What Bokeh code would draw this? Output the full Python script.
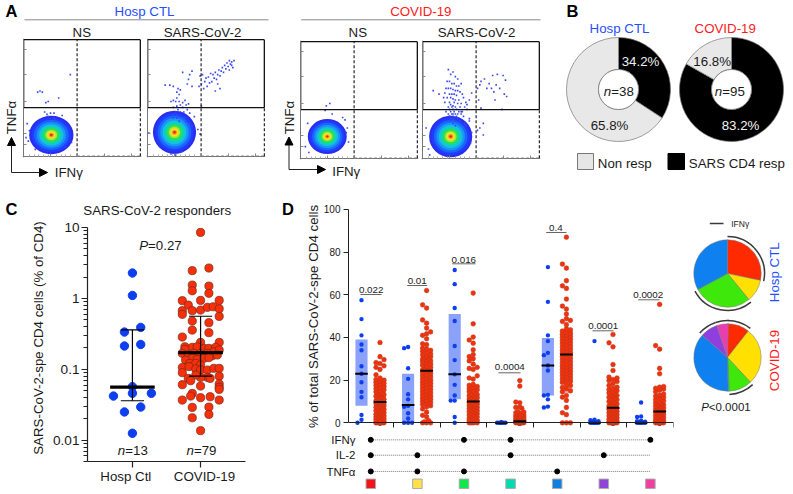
import math
from bokeh.plotting import figure
from bokeh.models import Column, Range1d, FixedTicker, Arrow, NormalHead
from bokeh.core.properties import value
from bokeh.embed import file_html
from bokeh.resources import INLINE

FONT = "Liberation Sans"
BLUE, RED = "#1f4fff", "#ff1a1a"

# ---------- Panel A: flow cytometry ----------
blob_centers = [(23.7, 18.3), (23.0, 20.6), (22.8, 18.7), (24.0, 18.7)]
blob_radii = [(19, 16.5), (18.5, 18.5), (16.7, 15), (18.5, 17.8)]
blob_levels = [1.0, 0.9, 0.78, 0.66, 0.55, 0.45, 0.36, 0.27, 0.19, 0.12, 0.06]
blob_colors = ["#2a2cf0", "#1f3cff", "#1a66ff", "#1a96f5", "#12c4e0", "#10d8a0",
               "#30e050", "#a8e830", "#f2e428", "#f89a20", "#f01c18"]
quad_h, quad_v = 41.7, 45.8
flow_x = [
    [12, 14, 16, 21, 19, 30, 26, 40, 20, 23, 26, 21, 18, 27, 33, 10, 4, 41, 36, 5, 3, 2],
    [74, 72, 70, 71, 68, 72, 69, 66, 64, 67, 70, 73, 63, 65, 61, 58, 60, 62, 56, 54, 57, 59, 52, 50, 47, 45, 49, 53, 55, 46,
     44, 48, 51, 60, 62, 58, 35, 38, 36, 34, 30, 26, 22, 25, 27, 28, 25, 22, 20, 24, 27, 30, 32, 28, 25, 22, 30, 33, 35, 26,
     24, 28, 31, 34, 22, 25, 36, 38, 15, 19, 22, 25, 28, 31, 27, 33, 36, 38, 46, 45, 43, 1, 40, 20, 24, 29],
    [22, 25, 21, 27, 36, 38, 6, 4, 40, 41, 7, 39],
    [50, 53, 57, 60, 64, 69, 71, 63, 59, 66, 61, 70, 72, 47, 49, 55, 48, 50, 62, 68, 49, 52, 47, 52,
     22, 24, 26, 28, 30, 21, 23, 25, 27, 29, 31, 33, 20, 22, 24, 26, 28, 30, 32, 19, 23, 25, 27, 29, 34, 18, 21, 24, 26, 28, 31,
     35, 9, 14, 19, 23, 27, 30, 33, 37, 24, 26, 22, 25, 28, 32, 36, 23, 26, 29, 20, 24, 27, 31, 34, 22, 25, 28, 30, 33, 23, 26,
     29, 25, 27, 24, 28, 26, 24, 30, 32, 28, 26, 23, 42, 40, 38, 40, 36, 35, 33, 38, 40, 37, 5, 42, 41, 6, 3],
]
flow_y = [
    [55, 56, 55, 47, 46, 50, 37, 70, 36, 37, 33, 34, 38, 31, 35, 6, 13, 12, 8, 22, 28, 16],
    [82, 81, 82, 79, 80, 78, 77, 78, 76, 75, 74, 76, 73, 72, 74, 72, 70, 69, 70, 71, 67, 66, 68, 67, 70, 69, 64, 63, 64, 62,
     60, 58, 60, 62, 58, 56, 66, 73, 70, 62, 72, 58, 60, 55, 53, 57, 50, 48, 47, 47, 47, 46, 48, 44, 43, 42, 42, 44, 45, 40,
     38, 38, 38, 40, 36, 36, 37, 60, 61, 61, 33, 33, 34, 33, 30, 30, 28, 26, 43, 19, 23, 20, 34, 2, 1, 4],
    [45, 47, 41, 38, 35, 33, 30, 10, 26, 14, 5, 22],
    [66, 68, 64, 71, 72, 71, 67, 63, 60, 60, 57, 55, 53, 60, 63, 60, 50, 43, 50, 42, 26, 30, 24, 20,
     76, 72, 74, 70, 68, 66, 66, 64, 64, 62, 62, 64, 60, 60, 60, 59, 58, 58, 57, 56, 55, 55, 55, 54, 55, 52, 52, 52, 51, 50, 50,
     52, 58, 55, 48, 48, 48, 47, 47, 48, 46, 45, 44, 44, 44, 44, 44, 42, 42, 42, 40, 40, 40, 40, 40, 38, 38, 38, 38, 38, 36, 36,
     36, 34, 34, 32, 32, 30, 34, 34, 32, 28, 38, 36, 56, 50, 42, 34, 30, 36, 40, 46, 32, 28, 8, 22, 13, 3, 26],
]

# ---------- Panel B: donuts ----------
donut_names = ["Hosp CTL", "COVID-19"]
resp_pct = [34.2, 83.2]
nonresp_pct = [65.8, 16.8]
donut_n = [38, 95]

# ---------- Panel C ----------
c_categories = ["Hosp Ctl", "COVID-19"]
c_blue_vals = [2.28, 1.10, .39, .335, .213, .224, .0568, .0458, .0419, .0458, .0293, .025, .0125]
c_blue_off = [0, 0, .122, -.117, -.117, .122, 0, 0, -.278, .278, .122, -.117, 0]
c_blue_stats = (.036, .056, .36)
c_red_vals = [8.53, 2.46, 2.68, 1.54, 1.28, 1.49, 1.18, .927, .937, .937, .805, .67, .595, .67, .684, .747, .762, .715, .557,
              .479, .454, .357, .328, .285, .239, .239, .208, .204, .208, .197, .197, .204, .191, .177, .187, .168, .159, .168,
              .168, .168, .155, .159, .143, .138, .143, .146, .135, .121, .121, .115, .106, .109, .101, .0975, .0975, .103, .103,
              .0895, .0744, .08, .0769, .0769, .083, .0744, .069, .0619, .0606, .0556, .058, .052, .0457, .0368, .0397, .0419,
              .041, .0368, .0293, .029, .0231, .0207, .0136]
c_red_off = [0, -.122, .122, -.122, -.122, .122, .122, -.268, 0, .273, -.18, -.268, -.268, -.122, 0, .1, .185, .273, .273,
             -.122, .122, -.122, .122, -.268, .273, 0, -.23, -.122, -.05, .05, .122, .22, -.23, .195, .273, -.268, -.18, -.1,
             0, .1, .17, .245, -.122, -.05, .05, .122, -.22, -.16, -.07, 0, -.268, -.17, -.07, 0, .1, .195, .273,
             -.268, -.18, .273, .1, 0, -.07, .14, -.146, .273, -.268, .273, 0, .273, -.122, -.268, 0, -.146, .14, .273,
             .122, -.122, .122, -.122, 0]
c_red_stats = (.08, .172, .56)

# ---------- Panel D ----------
d_blue = [
    [57.5, 48.6, 41, 36.7, 34, 26.5, 23, 19, 14.5, 12, 3.7, 1.4, 0],
    [35.5, 35, 25.6, 20.6, 13.4, 11, 8, 7.5, 4.5, 2, 0, 0, 0],
    [71.6, 65, 53.8, 47.7, 36, 29.4, 22.7, 17.8, 12.8, 10.4, 10.4, 2.7, 0],
    [0, 0, 0, 0, 0, 0, 0, 0, 0, 0, 0, 0, 0],
    [73, 56.7, 41, 38.3, 32.8, 31.7, 26.9, 24.5, 13.1, 12.8, 11, 7.6, 7.2],
    [38.3, 1.5, 1.2, .8, .5, .3, 0, 0, 0, 0, 0, 0, 0],
    [9.5, 3, 2.7, 1, .8, .5, .3, 0, 0, 0, 0, 0, 0],
]
d_blue_med = [23, 8.3, 22.8, 0, 26.8, 0, 0]
d_blue_q1 = [8, 0, 11, 0, 12.8, 0, 0]
d_blue_q3 = [39, 23, 51, 0, 39.7, 0, 0]
d_red = [
    [37.6, 31, 29.6, 28.2, 27.8, 26.7, 26, 25, 22.5, 21, 20.3, 20, 19.5, 19, 18.5, 18, 17.6, 17, 16.5, 16, 15.5, 15, 14.5, 14,
     13.6, 13.2, 13, 12.5, 12, 11.5, 11, 10.7, 10.3, 10, 9.8, 9.5, 9.2, 9, 8.6, 8.3, 8, 7.7, 7.3, 7, 6.6, 6.3, 6, 5.7, 5.3, 5,
     4.7, 4.3, 4, 3.8, 3.5, 3.2, 3, 2.7, 2.4, 2.1, 1.8, 1.5, 1.2, 1, .8, .5, .3, .1, 0, 0, 0, 0, 0, 0, 0, 0, 0, 0, 0],
    [62, 55.3, 53.8, 48.2, 46.7, 44.4, 42.6, 41.7, 41, 39.4, 37, 36.6, 35, 34.6, 34, 33.5, 33, 32.3, 31.8, 31.4, 31, 30.6, 30.2,
     29.8, 29.4, 29, 28.5, 28, 27.5, 27, 26.5, 26, 25.5, 25, 24.7, 24.4, 24, 23.5, 23, 22.5, 22, 21.5, 21, 20.5, 20, 19.5, 19,
     18.5, 18, 17.5, 17, 16.5, 16, 15.5, 15, 14.5, 14, 13.5, 13, 12.5, 12, 11.5, 11, 10.5, 10, 9.5, 9, 8.5, 8, 7.5, 6.5, 5, 3.5,
     2.8, 1, .5, 0, 0, 0],
    [60.8, 46.4, 40.2, 38.8, 37.3, 34.2, 32, 31, 30, 29, 27.5, 26, 25.5, 25, 22, 21, 20.5, 18, 17.6, 17, 16.5, 16, 15.5, 15, 14.6,
     14, 13.6, 13.2, 13, 12.6, 12.3, 12, 11.7, 11.4, 11, 10.7, 10.4, 10.1, 9.8, 9.5, 9.2, 9, 8.7, 8.4, 8.1, 7.8, 7.5, 7.2, 6.9,
     6.6, 6.3, 6, 5.7, 5.4, 5.1, 4.8, 4.5, 4.2, 3.9, 3.6, 3.3, 3, 2.7, 2.4, 2.1, 1.8, 1.5, 1.2, .9, .6, .3, 0, 0, 0, 0],
    [19.8, 17.2, 9.7, 9.4, 7.4, 7.2, 6.8, 5.2, 5, 4.7, 4.4, 4, 3.8, 3.6, 3.4, 3.2, 3, 2.8, 2.6, 2.4, 2.2, 2, 1.8, 1.6, 1.4, 1.2, 1,
     .8, .6, .4, .2, 0, 0, 0, 0, 0, 0, 0, 0, 0, 0, 0, 0, 0, 0, 0, 0, 0, 0, 0, 0, 0, 0, 0, 0, 0, 0, 0, 0, 0, 0, 0],
    [87, 74.4, 72.5, 66.6, 64.2, 63, 58, 54.7, 53.3, 51, 48.8, 48, 47.5, 46, 44, 43.6, 43, 42.5, 42, 41.5, 41, 40.5, 40, 39.5, 39,
     38.5, 38, 37.5, 37, 36.5, 36, 35.5, 35, 34.5, 34, 33.5, 33, 32.5, 32, 31.5, 31, 30.5, 30, 29.5, 29, 28.5, 28, 27.5, 27, 26.5,
     26, 25.5, 25, 24.5, 24, 23.5, 23, 22.5, 22, 21.5, 21, 20.5, 20, 19.5, 19, 18, 17.5, 16.5, 16, 15, 14.5, 12.8, 12, 10.5, 7.2,
     4.7, 3.8, 0, 0, 0],
    [41.4, 37.5, 35.6, 27.3, 24.5, 21.4, 21, 20.3, 19.8, 19.4, 18.3, 17.5, 16.7, 16.2, 15.6, 15, 14.5, 14, 13.6, 13.2, 12.8, 12.4,
     12, 11.6, 11.2, 10.8, 10.4, 10, 9.6, 9.2, 8.8, 8.4, 8, 7.6, 7.2, 6.8, 6.5, 6.2, 5.9, 5.6, 5.3, 5, 4.7, 4.4, 4.1, 3.8, 3.5,
     3.2, 2.9, 2.6, 2.3, 2, 1.7, 1.4, 1.1, .8, .5, .2, 0, 0, 0, 0, 0, 0, 0, 0, 0, 0, 0, 0, 0, 0, 0, 0, 0, 0, 0, 0, 0],
    [55.5, 36.2, 34.5, 25.5, 23, 17, 16.7, 16.2, 15.8, 15.3, 14.5, 13.5, 13, 12.5, 12, 11.5, 10.8, 10.3, 9.7, 9.3, 9, 8.7, 8.4, 8.1,
     7.8, 7.5, 7.2, 6.9, 6.6, 6.3, 6, 5.7, 5.4, 5.1, 4.8, 4.5, 4.2, 3.9, 3.6, 3.3, 3, 2.7, 2.4, 2.1, 1.8, 1.5, 1.2, .9, .6, .3,
     0, 0, 0, 0, 0, 0, 0, 0, 0, 0, 0, 0, 0, 0, 0, 0, 0, 0, 0, 0, 0, 0],
]
d_red_med = [9.7, 24.4, 10, .7, 32, 7, 5.3]
d_red_q1 = [3, 9, 3, 0, 14, 0, 0]
d_red_q3 = [20, 31, 18, 0, 44, 0, 0]
d_pvals = ["0.022", "0.01", "0.016", "0.0004", "0.4", "0.0001", "0.0002"]
matrix_rows = ["IFNγ", "IL-2", "TNFα"]
matrix_members = [[0, 2, 3, 6], [0, 1, 3, 5], [0, 1, 2, 4]]
combo_colors = ["#f2141c", "#ffe04a", "#12e84c", "#00dcb2", "#0f80e2", "#8f46d8", "#f03fa2"]

# ---------- Pies ----------
pie_names = ["Hosp CTL", "COVID-19"]
pie_colors = ["#ff2a00", "#ffe000", "#3ee80a", "#00dcb2", "#0f80f0", "#8f3fe0", "#e83fb0"]
pie_hosp = [28.3, 10.8, 28.0, 0, 32.9, 0, 0]
pie_covid = [10.6, 27.5, 11.1, .5, 36.8, 8.3, 5.7]
pie_ifn_slices = [0, 2, 5, 6]


def panel(left, top, fw, fh, xr, yr, borders=(0, 0, 0, 0), **kw):
    l, r, t, b = borders
    p = figure(frame_width=fw, frame_height=fh, x_range=Range1d(*xr), y_range=Range1d(*yr),
               toolbar_location=None, output_backend="svg", frame_align=False,
               min_border_left=l, min_border_right=r, min_border_top=t, min_border_bottom=b,
               background_fill_color=None, border_fill_color=None, outline_line_color=None,
               styles={"position": "absolute", "left": f"{left - l}px", "top": f"{top - t}px"}, **kw)
    p.grid.visible = False
    return p


def tx(p, x, y, s, size=13.3, color="#1a1a1a", align="center", style="normal", angle=0.0):
    p.text(x=[x], y=[y], text=[s], text_font=value(FONT), text_font_size=f"{size}px", text_color=color,
           text_align=align, text_baseline="middle", text_font_style=style, angle=angle)


def ital(p, cx, y, it, rest, it_w, rest_w, size=13.3):
    x0 = cx - (it_w + rest_w) * size / 2
    tx(p, x0, y, it, size, align="left", style="italic")
    tx(p, x0 + it_w * size, y, rest, size, align="left")


# canvas for labels
ov = panel(0, 0, 793, 494, (0, 793), (494, 0), x_axis_location=None, y_axis_location=None)
for s, x, y in [("A", 5, 10), ("B", 566, 10), ("C", 5, 208), ("D", 281.5, 208)]:
    tx(ov, x, y, s, 16.5, "#000000", "left", "bold")
tx(ov, 144, 10.5, donut_names[0], color=BLUE)
tx(ov, 420.3, 10.5, donut_names[1], color=RED)
ov.segment([24, 300.7], [19.3, 19.3], [268, 540], [19.3, 19.3], line_color="#8a8a8a", line_width=1)
for x, s in [(81.3, "NS"), (202, "SARS-CoV-2"), (357.3, "NS"), (476, "SARS-CoV-2")]:
    tx(ov, x, 32.3, s)
for ax, ay_top, ay_bot, ax_end, ty_lbl, tx_lbl, y_lbl in [(11, 137, 172, 47, 117, 54.3, 171.7), (288.5, 136.5, 169, 325, 117, 331.7, 171)]:
    tx(ov, ax, ty_lbl, "TNFα", angle=math.pi / 2)
    tx(ov, tx_lbl, y_lbl, "IFNγ", align="left")
    ov.add_layout(Arrow(end=NormalHead(size=8, fill_color="#000", line_color="#000"), x_start=ax, y_start=ay_bot, x_end=ax, y_end=ay_top, line_width=1, line_color="#222"))
    ov.add_layout(Arrow(end=NormalHead(size=8, fill_color="#000", line_color="#000"), x_start=ax, y_start=ay_bot, x_end=ax_end, y_end=ay_bot, line_width=1, line_color="#222"))

tx(ov, 619, 27.7, donut_names[0], color=BLUE)
tx(ov, 724.7, 27.7, donut_names[1], color=RED)
tx(ov, 640, 61, f"{resp_pct[0]}%", color="#eeeeee")
tx(ov, 609, 125.3, f"{nonresp_pct[0]}%")
tx(ov, 711.7, 60.7, f"{nonresp_pct[1]}%")
tx(ov, 740, 125.3, f"{resp_pct[1]}%", color="#f4f4f4")
ital(ov, 618.3, 90.7, "n", f"={donut_n[0]}", .556, 1.696)
ital(ov, 729.3, 90.7, "n", f"={donut_n[1]}", .556, 1.696)
ov.quad(left=[577, 667.5], right=[593, 684], top=[153, 153], bottom=[169, 169],
        fill_color=["#e6e6e6", "#000000"], line_color=["#777777", "#000000"], line_width=1)
tx(ov, 597.3, 163, "Non resp", align="left")
tx(ov, 688.3, 163, "SARS CD4 resp", align="left")

tx(ov, 156.7, 209.7, "SARS-CoV-2 responders")
tx(ov, 37.7, 337.5, "SARS-CoV-2-spe CD4 cells (% of CD4)", angle=math.pi / 2)
ital(ov, 160, 245, "P", "=0.27", .667, 2.531)
ital(ov, 132.3, 450, "n", "=13", .556, 1.696)
ital(ov, 201, 450, "n", "=79", .556, 1.696)
tx(ov, 125.3, 475.7, c_categories[0])
tx(ov, 204, 475.7, c_categories[1])

tx(ov, 313, 316, "% of total SARS-CoV-2-spe CD4 cells", angle=math.pi / 2)
p_lab = [(370.7, 289, 360, 381, 294), (416.7, 280, 406.7, 426.7, 285), (463.3, 259, 451.7, 475, 263.3), (509.3, 366.7, 498, 520, 372.3),
         (555.3, 227.7, 545.7, 566, 232), (602.7, 325, 592, 613, 330.3), (647.7, 294, 637.7, 659, 299.3)]
for s, (x, y, x0, x1, yl) in zip(d_pvals, p_lab):
    tx(ov, x, y, s, 9.8, "#222222")
    ov.segment([x0], [yl], [x1], [yl], line_color="#555555", line_width=.9)
for s, y in zip(matrix_rows, [439.3, 454.7, 471]):
    tx(ov, 355, y, s, 11.5, "#1a1a1a", "right")

ov.segment([709.3], [223], [723], [223], line_color="#3a3a3a", line_width=1.6)
tx(ov, 730.7, 223, "IFNγ", 8.5, "#222222", "left")
tx(ov, 774, 271.7, pie_names[0], 13.3, BLUE, angle=math.pi / 2)
tx(ov, 774, 360, pie_names[1], 13.3, RED, angle=math.pi / 2)
ital(ov, 727, 406.7, "P", "<0.0001", .667, 3.919, 11.5)

figs = []

# ---------- flow panels ----------
flow_pos = [(23, 39), (147, 39), (300, 40.5), (422, 40.5)]
for i, (lx, ly) in enumerate(flow_pos):
    p = panel(lx - 1, ly - 1, 119, 119, (-1, 101), (-1, 101), (8, 2, 2, 8))
    cx, cy = blob_centers[i]
    rx, ry = blob_radii[i]
    p.ellipse(x=[cx] * len(blob_levels), y=[cy] * len(blob_levels),
              width=[2 * rx * k for k in blob_levels], height=[2 * ry * k for k in blob_levels],
              fill_color=blob_colors, line_color=None)
    p.scatter(flow_x[i], flow_y[i], size=1.6, marker="square", color="#3a46ee", line_color=None)
    # gates
    p.segment([0, 0, 100, 0], [100, quad_h, quad_h, quad_h], [100, 0, 100, 100], [100, 100, 100, quad_h],
              line_color="#111111", line_width=1.3)
    p.segment([quad_v, quad_v, 100], [0, 0, 0], [quad_v, 100, 100], [100, 0, quad_h],
              line_color="#111111", line_width=1.1, line_dash="3 2")
    xt, yt = [0, 23, 46, 69, 92], [10, 20, 47, 70, 92]
    p.xaxis.ticker = FixedTicker(ticks=xt, minor_ticks=[5, 9, 13, 17, 21, 28, 32, 36, 40])
    p.yaxis.ticker = FixedTicker(ticks=yt, minor_ticks=[])
    p.xaxis.major_label_overrides = {t: "" for t in xt}
    p.yaxis.major_label_overrides = {t: "" for t in yt}
    p.xaxis.fixed_location = 0
    p.yaxis.fixed_location = 0
    for a in p.axis:
        a.major_label_text_font_size = "0px"
        a.major_label_standoff = 0
        a.major_tick_in, a.major_tick_out = 3, 0
        a.minor_tick_in, a.minor_tick_out = 2, 0
        a.axis_line_color = "#777777"
        a.major_tick_line_color = "#888888"
        a.minor_tick_line_color = "#aaaaaa"
    figs.append(p)

# ---------- donuts ----------
for cx_px, resp, non in [(618.7, resp_pct[0], nonresp_pct[0]), (731.3, resp_pct[1], nonresp_pct[1])]:
    p = panel(int(cx_px - 54), 35, 108, 108, (-54, 54), (-54, 54), x_axis_location=None, y_axis_location=None)
    a0 = math.pi / 2
    a1 = a0 - resp / 100 * 2 * math.pi
    p.annular_wedge(x=[0, 0], y=[0, 0], inner_radius=20, outer_radius=52,
                    start_angle=[a0, a1], end_angle=[a1, a0 - 2 * math.pi], direction="clock",
                    fill_color=["#000000", "#e8e8e8"], line_color="#777777", line_width=.7)
    p.circle(x=[0], y=[0], radius=20, fill_color="#ffffff", line_color="#666666", line_width=.7)
    figs.append(p)

# ---------- Panel C ----------
c = panel(87, 227, 158, 234, (.341, 2.659), (.005, 10), (42, 4, 10, 8), y_axis_type="log")
c.scatter([1 + o for o in c_blue_off], c_blue_vals, size=8.4, color="#0d3ff0", line_color="#0d3ff0")
c.scatter([2 + o for o in c_red_off], c_red_vals, size=8.2, fill_color="#f8300a", line_color="#70281a", line_width=.7)
for xc, (q1, m, q3) in zip([1, 2], [c_blue_stats, c_red_stats]):
    c.segment([xc, xc - .17, xc - .17], [q1, q1, q3], [xc, xc + .17, xc + .17], [q3, q1, q3], line_color="#000000", line_width=1.2)
    c.segment([xc - .327], [m], [xc + .327], [m], line_color="#000000", line_width=3.4)
major_c = [.01, .1, 1, 10]
minor_c = [k * d for d in [.001, .01, .1, 1] for k in range(2, 10) if .005 <= k * d <= 10]
c.yaxis.ticker = FixedTicker(ticks=major_c, minor_ticks=minor_c)
c.yaxis.major_label_overrides = {.01: "0.01", .1: "0.1", 1: "1", 10: "10"}
c.yaxis.major_label_text_font_size = "13.6px"
c.yaxis.major_label_text_font = FONT
c.yaxis.major_label_text_color = "#1a1a1a"
c.yaxis.major_label_standoff = 2
c.xaxis.ticker = FixedTicker(ticks=[1, 2])
c.xaxis.major_label_overrides = {1: "", 2: ""}
c.xaxis.major_label_text_font_size = "0px"
c.xaxis.major_label_standoff = 0
for a in c.axis:
    a.axis_line_width = 1.2
    a.major_tick_line_width = 1.2
    a.minor_tick_line_width = 1
    a.major_tick_in, a.major_tick_out = 0, 6
    a.minor_tick_in, a.minor_tick_out = 0, 4
    a.axis_line_color = a.major_tick_line_color = a.minor_tick_line_color = "#222222"
figs.append(c)

# ---------- Panel D ----------
PX = 46.6   # pixels per group along x
PY = 2.133  # pixels per percentage point


def swarm(vals, dot):
    """Spread dots of one column sideways so that they overlap little (offsets in pixels)."""
    placed, out = [], []
    for v in vals:
        yp = v * PY
        best, bd = 0.0, -1
        for o in [0, -4, 4, -2, 2]:
            dm = min([math.hypot(o - a, yp - b) for a, b in placed] or [99])
            if dm >= dot * .92:
                best, bd = o, 99
                break
            if dm > bd:
                best, bd = o, dm
        placed.append((best, yp))
        out.append(best)
    return out


d = panel(348, 203, 325, 287, (.032, 7.006), (-31.74, 102.8), (30, 2, 8, 2))
BLUE_X, RED_X = .311, .708
gx = list(range(7))
d.vbar(x=[g + BLUE_X for g in gx], width=.26, bottom=d_blue_q1, top=d_blue_q3, fill_color="#8aa2fa", line_color=None)
d.vbar(x=[g + RED_X for g in gx], width=.26, bottom=d_red_q1, top=d_red_q3, fill_color="#f7b0a4", line_color=None)
for g in gx:
    ob = swarm(d_blue[g], 4.3)
    d.scatter([g + BLUE_X + o / PX for o in ob], d_blue[g], size=4.4, color="#0d3ff0", line_color=None)
for g in gx:
    ordered = sorted(d_red[g])
    ob = swarm(ordered, 4.6)
    d.scatter([g + RED_X + o / PX for o in ob], ordered, size=4.7, fill_color="#f8300a", line_color="#a83a22", line_width=.5)
d.segment([g + BLUE_X - .135 for g in gx], d_blue_med, [g + BLUE_X + .135 for g in gx], d_blue_med, line_color="#000000", line_width=2)
d.segment([g + RED_X - .135 for g in gx], d_red_med, [g + RED_X + .135 for g in gx], d_red_med, line_color="#000000", line_width=2)
row_y = [-8, -15.2, -22.8]
mcol = [g + .51 for g in gx]
for members, y in zip(matrix_members, row_y):
    d.segment([mcol[0]], [y], [mcol[-1]], [y], line_color="#555555", line_width=.8, line_dash="1 1")
    d.scatter([mcol[m] for m in members], [y] * len(members), size=5, color="#000000")
d.scatter(mcol, [-28.6] * 7, marker="square", size=9.5, fill_color=combo_colors, line_color="#aaaaaa", line_width=1)
d.xaxis.ticker = FixedTicker(ticks=[1, 2, 3, 4, 5, 6, 7])
d.xaxis.major_label_overrides = {t: "" for t in range(1, 8)}
d.xaxis.major_label_text_font_size = "0px"
d.xaxis.major_label_standoff = 0
d.xaxis.fixed_location = 0
d.yaxis.ticker = FixedTicker(ticks=[0, 20, 40, 60, 80, 100], minor_ticks=[])
d.yaxis.bounds = (0, 100)
d.yaxis.major_label_text_font_size = "10px"
d.yaxis.major_label_text_font = FONT
d.yaxis.major_label_text_color = "#1a1a1a"
d.yaxis.major_label_standoff = 3
for a in d.axis:
    a.major_tick_in, a.major_tick_out = 0, 5
    a.minor_tick_out = 0
    a.axis_line_color = a.major_tick_line_color = "#222222"
    a.axis_line_width = 1
figs.append(d)

# ---------- Pies ----------
for cy_px, vals in [(273.7, pie_hosp), (357.3, pie_covid)]:
    p = panel(686, int(cy_px - 41), 82, 82, (-41, 41), (-41, 41), x_axis_location=None, y_axis_location=None)
    bounds = [math.pi / 2]
    for v in vals:
        bounds.append(bounds[-1] - v / 100 * 2 * math.pi)
    keep = [i for i, v in enumerate(vals) if v > 0]
    p.wedge(x=[0] * len(keep), y=[0] * len(keep), radius=33.7,
            start_angle=[bounds[i] for i in keep], end_angle=[bounds[i + 1] for i in keep], direction="clock",
            fill_color=[pie_colors[i] for i in keep], line_color="#777777", line_width=.5)
    arcs = [i for i in keep if i in pie_ifn_slices]
    p.arc(x=[0] * len(arcs), y=[0] * len(arcs), radius=37,
          start_angle=[bounds[i] for i in arcs], end_angle=[bounds[i + 1] for i in arcs], direction="clock",
          line_color="#3a3a3a", line_width=1.5)
    figs.append(p)

# the text canvas goes last so that labels sit above the marks
figs = figs + [ov]

root = Column(children=figs, width=793, height=494, sizing_mode="fixed", margin=0,
              styles={"position": "relative"})
open("out.html", "w").write(file_html(root, INLINE))
